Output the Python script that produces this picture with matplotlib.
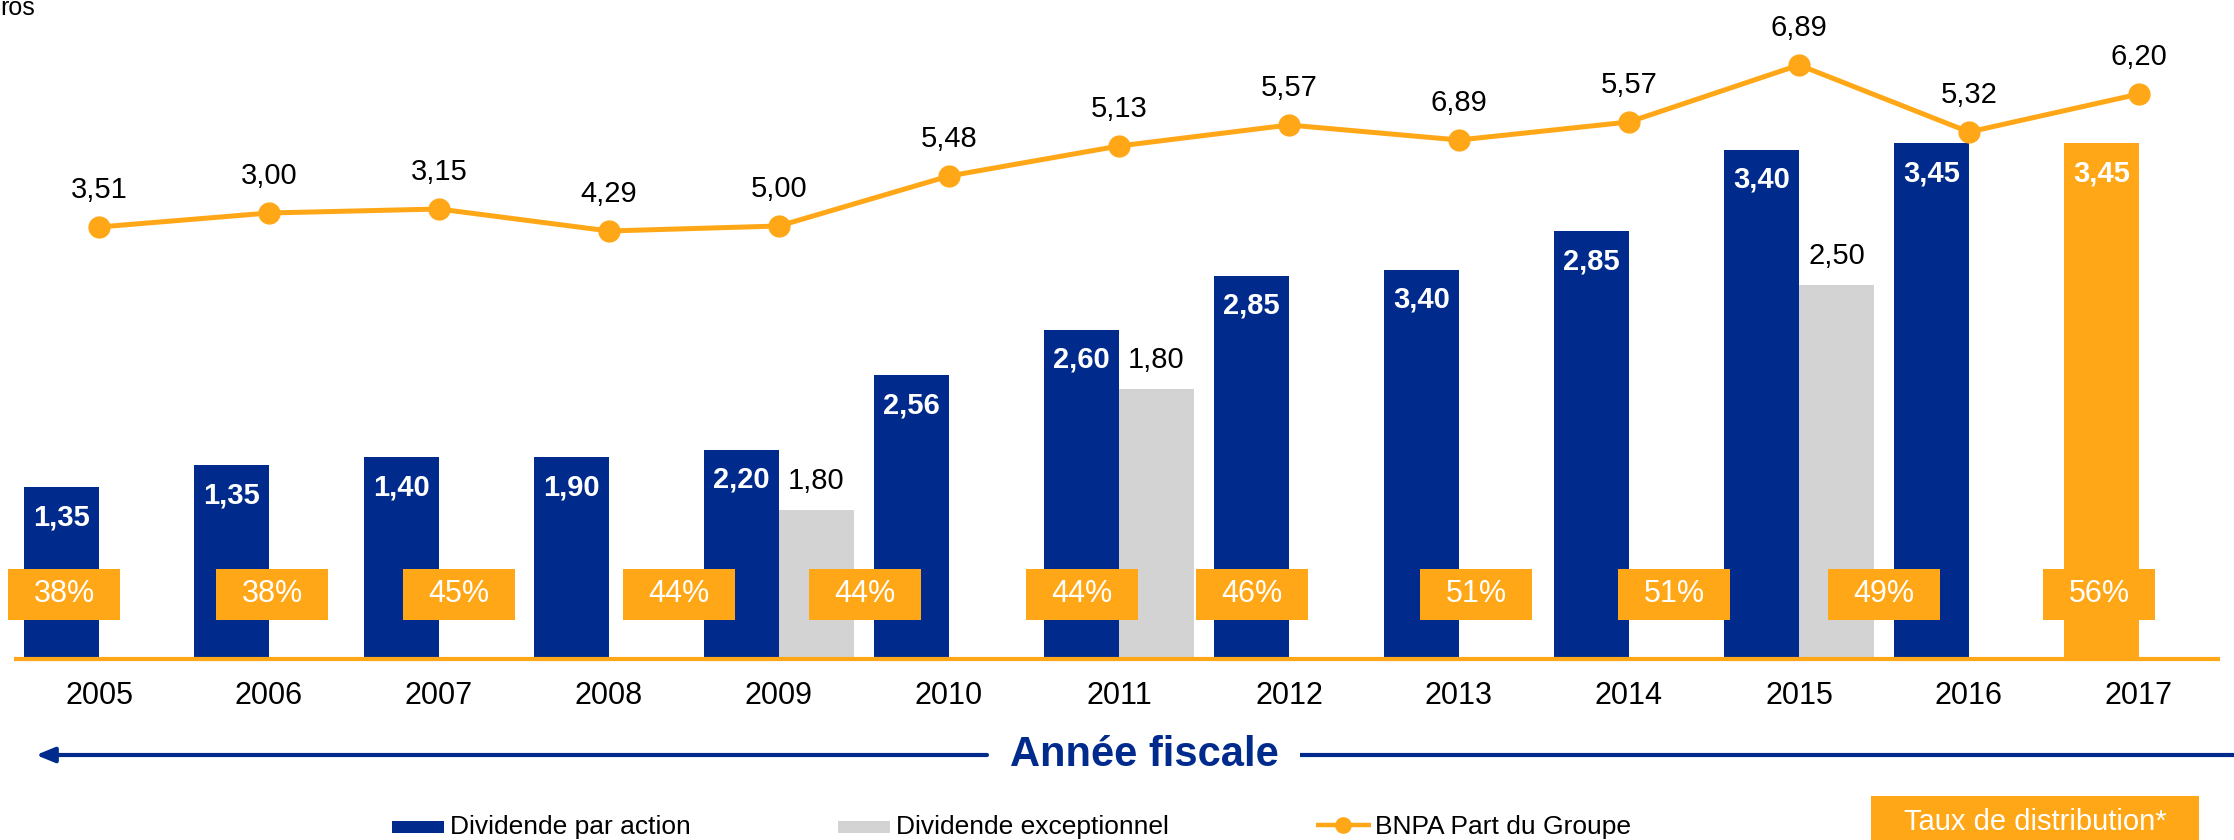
import matplotlib
matplotlib.use("Agg")
import matplotlib.pyplot as plt
from matplotlib.patches import Rectangle

plt.rcParams.update({"font.family": ["Liberation Sans", "DejaVu Sans"]})

BLUE, ORANGE, GREY, INK = "#002B8C", "#FFA716", "#D3D3D3", "#000000"

# ── data ─────────────────────────────────────────────────────────────────────
years = ["2005", "2006", "2007", "2008", "2009", "2010", "2011",
         "2012", "2013", "2014", "2015", "2016", "2017"]
# dividend per share: printed values and drawn heights (as shown in the picture)
div_labels = ["1,35", "1,35", "1,40", "1,90", "2,20", "2,56", "2,60",
              "2,85", "3,40", "2,85", "3,40", "3,45", "3,45"]
div_height = [1.72, 1.94, 2.02, 2.02, 2.09, 2.84, 3.29,
              3.83, 3.89, 4.28, 5.09, 5.16, 5.16]
# exceptional dividend (only some years)
exc_years = ["2009", "2011", "2015"]
exc_labels = ["1,80", "1,80", "2,50"]
exc_height = [1.49, 2.70, 3.74]
# BNPA part du groupe
eps_labels = ["3,51", "3,00", "3,15", "4,29", "5,00", "5,48", "5,13",
              "5,57", "6,89", "5,57", "6,89", "5,32", "6,20"]
eps_height = [4.32, 4.46, 4.50, 4.28, 4.33, 4.83, 5.13,
              5.34, 5.19, 5.37, 5.94, 5.27, 5.65]
# payout ratio boxes
rate_labels = ["38%", "38%", "45%", "44%", "44%", "44%", "46%",
               "51%", "51%", "49%", "56%"]

# ── layout ───────────────────────────────────────────────────────────────────
W, H = 2234, 840
X0, STEP = 99, 170            # px of first category centre, px per category
BASE = 659                    # px of baseline
rate_left_px = [8, 216, 403, 623, 809, 1026, 1196, 1420, 1618, 1828, 2043]
bw = 75 / STEP

fig = plt.figure(figsize=(W / 100, H / 100), dpi=100)
ax = fig.add_axes([0, 0, 1, 1])
ax.set_xlim(-X0 / STEP, (W - X0) / STEP)
ax.set_ylim((BASE - H) / 100, BASE / 100)
ax.axis("off")

xs = list(range(len(years)))
cols = [BLUE] * (len(years) - 1) + [ORANGE]
# blue bar sits left of the category centre, grey bar right of it
ax.bar([x - bw for x in xs], div_height, width=bw, align="edge",
       color=cols, zorder=2)
exc_x = [years.index(y) for y in exc_years]
ax.bar(exc_x, exc_height, width=bw, align="edge", color=GREY, zorder=2)

for x, h, s in zip(xs, div_height, div_labels):
    ax.text(x - bw / 2, h - 0.30, s, ha="center", va="center", fontsize=21,
            fontweight="bold", color="white", zorder=4)
for x, h, s in zip(exc_x, exc_height, exc_labels):
    ax.text(x + bw / 2, h + 0.29, s, ha="center", va="center", fontsize=21,
            color=INK, zorder=4)

ax.plot(xs, eps_height, color=ORANGE, lw=3.6, marker="o", ms=15, zorder=5)
for x, h, s in zip(xs, eps_height, eps_labels):
    ax.text(x, h + 0.37, s, ha="center", va="center", fontsize=21, color=INK)

# baseline
ax.plot([(14 - X0) / STEP, (2220 - X0) / STEP], [0, 0], color=ORANGE,
        lw=3, solid_capstyle="butt", zorder=3)

# year labels
for x, y in zip(xs, years):
    ax.text(x, (BASE - 696) / 100, y, ha="center", va="center", fontsize=22,
            color=INK)

# payout ratio boxes
bx_w = 112 / STEP
for px, s in zip(rate_left_px, rate_labels):
    x = (px - X0) / STEP
    ax.add_patch(Rectangle((x, 0.39), bx_w, 0.51, color=ORANGE, lw=0, zorder=6))
    ax.text(x + bx_w / 2, 0.645, s, ha="center", va="center", fontsize=22,
            color="white", zorder=7)

# ── overlay in pixel units: arrow, titles, legend ────────────────────────────
lay = fig.add_axes([0, 0, 1, 1])
lay.set_xlim(0, W); lay.set_ylim(H, 0); lay.axis("off")

lay.text(0, 8, "ros", ha="left", va="center", fontsize=18, color=INK)

AY = 755
lay.annotate("", xy=(36, AY), xytext=(987, AY),
             arrowprops=dict(arrowstyle="-|>,head_length=1.1,head_width=0.45",
                             color=BLUE, lw=3, shrinkA=0, shrinkB=0))
lay.plot([1300, W], [AY, AY], color=BLUE, lw=3, solid_capstyle="butt")
lay.text(1144, AY, "Année fiscale", ha="center", va="center", fontsize=30,
         fontweight="bold", color=BLUE)

LY = 827
lay.add_patch(Rectangle((392, LY - 6), 52, 12, color=BLUE, lw=0))
lay.text(450, LY, "Dividende par action", ha="left", va="center",
         fontsize=19, color=INK)
lay.add_patch(Rectangle((838, LY - 6), 52, 12, color=GREY, lw=0))
lay.text(896, LY, "Dividende exceptionnel", ha="left", va="center",
         fontsize=19, color=INK)
lay.plot([1316, 1371], [LY - 2, LY - 2], color=ORANGE, lw=3.2,
         solid_capstyle="butt")
lay.plot([1343], [LY - 2], "o", color=ORANGE, ms=11)
lay.text(1375, LY, "BNPA Part du Groupe", ha="left", va="center",
         fontsize=19, color=INK)
lay.add_patch(Rectangle((1871, 796), 328, 60, color=ORANGE, lw=0))
lay.text(2035, 822, "Taux de distribution*", ha="center", va="center",
         fontsize=21, color="white")

fig.savefig("out.png", dpi=100)
